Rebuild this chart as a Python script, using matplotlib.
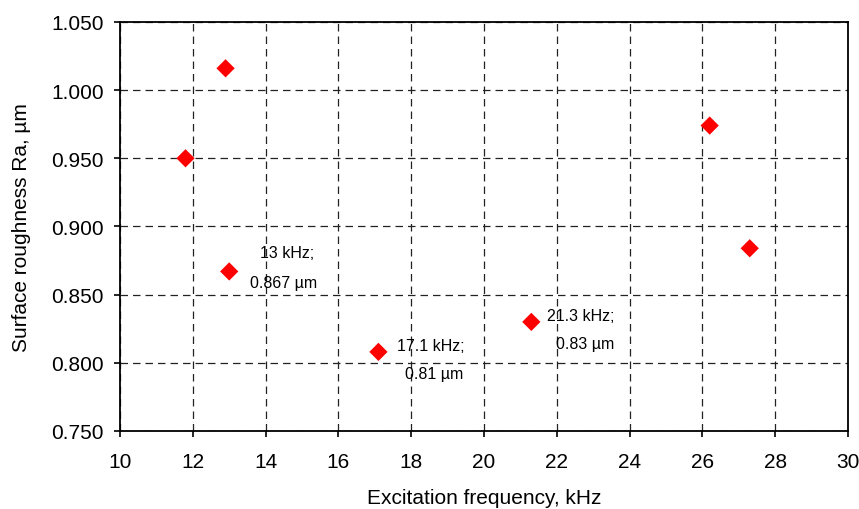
import matplotlib
matplotlib.use("Agg")
import matplotlib.pyplot as plt
from matplotlib.ticker import FormatStrFormatter, MultipleLocator

plt.rcParams['font.family'] = ['Liberation Sans', 'DejaVu Sans']

# Measured surface roughness versus excitation frequency
freq_khz = [11.8, 12.9, 13.0, 17.1, 21.3, 26.2, 27.3]
roughness_um = [0.950, 1.016, 0.867, 0.808, 0.830, 0.974, 0.884]

# Labelled points: first and second text line
label_line1 = ["13 kHz;", "17.1 kHz;", "21.3 kHz;"]
label_line2 = ["0.867 \u00b5m", "0.81 \u00b5m", "0.83 \u00b5m"]
# label anchor positions (data coordinates)
label_x1 = [13.85, 17.62, 21.73]
label_y1 = [0.881, 0.813, 0.835]
label_x2 = [13.58, 17.82, 21.98]
label_y2 = [0.859, 0.792, 0.814]

fig = plt.figure(figsize=(8.59, 5.10), dpi=100)
ax = fig.add_axes([0.1397, 0.153, 0.8475, 0.802])

ax.scatter(freq_khz, roughness_um, marker='D', s=9.3 ** 2, color='#ff0000',
           edgecolors='none', zorder=3)

for x1, y1, t1, x2, y2, t2 in zip(label_x1, label_y1, label_line1,
                                  label_x2, label_y2, label_line2):
    ax.text(x1, y1, t1, fontsize=11.5, ha='left', va='center', zorder=4)
    ax.text(x2, y2, t2, fontsize=11.5, ha='left', va='center', zorder=4)

ax.set_xlim(10, 30)
ax.set_ylim(0.750, 1.050)
ax.xaxis.set_major_locator(MultipleLocator(2))
ax.yaxis.set_major_locator(MultipleLocator(0.05))
ax.yaxis.set_major_formatter(FormatStrFormatter('%.3f'))

ax.grid(True, color='#222222', linestyle=(0, (6, 4)), linewidth=0.9)
ax.set_axisbelow(True)

for s in ax.spines.values():
    s.set_linewidth(1.3)
    s.set_color('black')

ax.tick_params(direction='out', length=4.5, width=1.2, labelsize=15)
ax.tick_params(axis='y', pad=7)
ax.tick_params(axis='x', pad=11)

ax.set_xlabel("Excitation frequency, kHz", fontsize=15, labelpad=12)
ax.set_ylabel("Surface roughness Ra, \u00b5m", fontsize=15, labelpad=15)

fig.savefig("out.png", dpi=100, facecolor='white')
